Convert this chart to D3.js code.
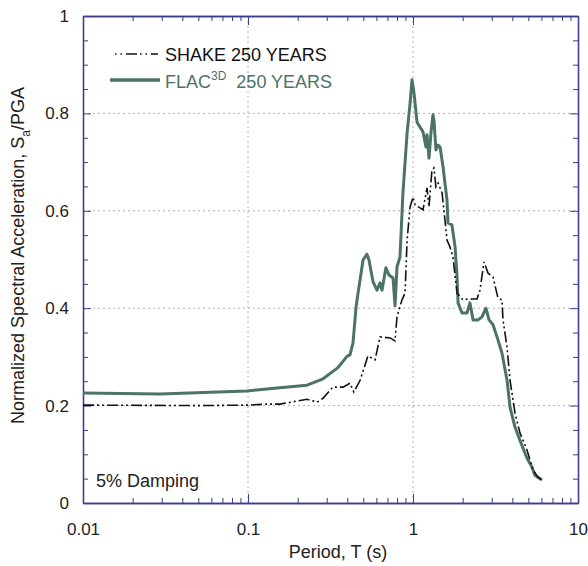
<!DOCTYPE html>
<html>
<head>
<meta charset="utf-8">
<script src="https://cdn.jsdelivr.net/npm/d3@7/dist/d3.min.js"></script>
<style>
body { margin: 0; background: #fff; }
svg text { font-family: Arial, "Liberation Sans", sans-serif; }
</style>
</head>
<body>
<svg id="chart" width="588" height="566"></svg>
<script>
// ---- data ----
const shakePeriod = [0.01, 0.05, 0.1, 0.13, 0.156, 0.228, 0.262, 0.285, 0.327, 0.377, 0.415, 0.438, 0.478, 0.533, 0.589, 0.631, 0.726, 0.778, 0.80, 0.857, 0.895, 0.921, 0.96, 1.0, 1.03, 1.102, 1.15, 1.216, 1.25, 1.303, 1.34, 1.377, 1.419, 1.5, 1.563, 1.607, 1.675, 1.747, 1.849, 2.01, 2.154, 2.443, 2.546, 2.692, 2.85, 3.055, 3.273, 3.459, 3.511, 3.715, 3.873, 4.15, 4.446, 4.909, 5.33, 5.72, 6.05];
const shakeSa = [0.201, 0.200, 0.201, 0.203, 0.203, 0.213, 0.207, 0.215, 0.238, 0.238, 0.246, 0.228, 0.252, 0.302, 0.294, 0.341, 0.339, 0.333, 0.382, 0.417, 0.431, 0.54, 0.608, 0.628, 0.612, 0.606, 0.602, 0.647, 0.608, 0.684, 0.688, 0.649, 0.657, 0.637, 0.58, 0.54, 0.526, 0.505, 0.431, 0.417, 0.419, 0.419, 0.437, 0.495, 0.472, 0.464, 0.421, 0.417, 0.376, 0.32, 0.252, 0.185, 0.144, 0.109, 0.068, 0.053, 0.047];

const flacPeriod = [0.01, 0.0293, 0.0986, 0.15, 0.228, 0.285, 0.351, 0.398, 0.415, 0.433, 0.452, 0.464, 0.498, 0.526, 0.541, 0.573, 0.605, 0.631, 0.649, 0.685, 0.716, 0.757, 0.778, 0.80, 0.834, 0.869, 0.921, 0.96, 0.986, 1.014, 1.058, 1.102, 1.15, 1.199, 1.216, 1.25, 1.285, 1.321, 1.34, 1.377, 1.419, 1.459, 1.521, 1.607, 1.629, 1.722, 1.799, 1.849, 1.875, 1.982, 2.123, 2.213, 2.312, 2.477, 2.618, 2.767, 2.89, 3.055, 3.273, 3.459, 3.715, 3.873, 4.15, 4.446, 4.909, 5.26, 5.48, 6.05];
const flacSa = [0.226, 0.224, 0.230, 0.236, 0.242, 0.255, 0.278, 0.301, 0.304, 0.329, 0.403, 0.43, 0.499, 0.511, 0.499, 0.454, 0.437, 0.452, 0.437, 0.483, 0.468, 0.462, 0.405, 0.485, 0.505, 0.637, 0.76, 0.821, 0.869, 0.842, 0.782, 0.772, 0.762, 0.731, 0.756, 0.708, 0.76, 0.797, 0.786, 0.725, 0.735, 0.731, 0.69, 0.622, 0.575, 0.571, 0.526, 0.464, 0.411, 0.39, 0.39, 0.411, 0.376, 0.376, 0.382, 0.40, 0.376, 0.366, 0.335, 0.308, 0.252, 0.197, 0.156, 0.129, 0.092, 0.074, 0.057, 0.047];

const xMajorTicks = [0.01, 0.1, 1, 10];
const xTickLabels = ["0.01", "0.1", "1", "10"];
const yMajorTicks = [0, 0.2, 0.4, 0.6, 0.8, 1];
const yTickLabels = ["0", "0.2", "0.4", "0.6", "0.8", "1"];
const seriesNames = ["SHAKE 250 YEARS", "FLAC", "3D", "  250 YEARS"];

// ---- layout ----
const svg = d3.select("#chart");
const L = 83, R = 578, T = 16, B = 503;
const axisColor = "#3b3b8f";
const green = "#4d7266";

const x = d3.scaleLog().domain([0.01, 10]).range([L, R]);
const y = d3.scaleLinear().domain([0, 1]).range([B, T]);

// gridlines
const g = svg.append("g");
g.selectAll("line.gx").data(xMajorTicks.slice(1, -1)).join("line")
  .attr("x1", d => x(d)).attr("x2", d => x(d)).attr("y1", T).attr("y2", B)
  .attr("stroke", "#b0b0b0").attr("stroke-width", 1).attr("stroke-dasharray", "2,3");
g.selectAll("line.gy").data(yMajorTicks.slice(1, -1)).join("line")
  .attr("y1", d => y(d)).attr("y2", d => y(d)).attr("x1", L).attr("x2", R)
  .attr("stroke", "#b0b0b0").attr("stroke-width", 1).attr("stroke-dasharray", "2,3");

// minor ticks
const xMinor = [];
[0.01, 0.1, 1].forEach(dec => { for (let k = 2; k <= 9; k++) xMinor.push(dec * k); });
const yMinor = d3.range(0.05, 1, 0.05).filter(v => Math.abs(v * 5 - Math.round(v * 5)) > 1e-6);

// axes with inward ticks
function styleAxis(sel) {
  sel.select(".domain").attr("stroke", axisColor).attr("stroke-width", 1.3);
  sel.selectAll(".tick line").attr("stroke", axisColor).attr("stroke-width", 1);
  sel.selectAll(".tick text").attr("fill", "#222").style("font-size", "17px");
}
const xAxisB = d3.axisBottom(x).tickValues(xMajorTicks).tickFormat((d, i) => xTickLabels[i]).tickSizeInner(-9).tickSizeOuter(0).tickPadding(20);
svg.append("g").attr("transform", `translate(0,${B})`).call(xAxisB).call(styleAxis);
const xAxisBm = d3.axisBottom(x).tickValues(xMinor).tickFormat("").tickSizeInner(-5).tickSizeOuter(0);
svg.append("g").attr("transform", `translate(0,${B})`).call(xAxisBm).call(styleAxis);
const xAxisT = d3.axisTop(x).tickValues(xMajorTicks).tickFormat("").tickSizeInner(-9).tickSizeOuter(0);
svg.append("g").attr("transform", `translate(0,${T})`).call(xAxisT).call(styleAxis);
const xAxisTm = d3.axisTop(x).tickValues(xMinor).tickFormat("").tickSizeInner(-5).tickSizeOuter(0);
svg.append("g").attr("transform", `translate(0,${T})`).call(xAxisTm).call(styleAxis);

const yAxisL = d3.axisLeft(y).tickValues(yMajorTicks).tickFormat((d, i) => yTickLabels[i]).tickSizeInner(-8).tickSizeOuter(0).tickPadding(14);
svg.append("g").attr("transform", `translate(${L},0)`).call(yAxisL).call(styleAxis);
const yAxisLm = d3.axisLeft(y).tickValues(yMinor).tickFormat("").tickSizeInner(-5).tickSizeOuter(0);
svg.append("g").attr("transform", `translate(${L},0)`).call(yAxisLm).call(styleAxis);
const yAxisR = d3.axisRight(y).tickValues(yMajorTicks).tickFormat("").tickSizeInner(-8).tickSizeOuter(0);
svg.append("g").attr("transform", `translate(${R},0)`).call(yAxisR).call(styleAxis);
const yAxisRm = d3.axisRight(y).tickValues(yMinor).tickFormat("").tickSizeInner(-5).tickSizeOuter(0);
svg.append("g").attr("transform", `translate(${R},0)`).call(yAxisRm).call(styleAxis);

// lines
const line = d3.line().x(d => x(d[0])).y(d => y(d[1]));
const flacData = flacPeriod.map((p, i) => [p, flacSa[i]]);
const shakeData = shakePeriod.map((p, i) => [p, shakeSa[i]]);
svg.append("path").datum(flacData).attr("d", line)
  .attr("fill", "none").attr("stroke", green).attr("stroke-width", 3).attr("stroke-linejoin", "round");
svg.append("path").datum(shakeData).attr("d", line)
  .attr("fill", "none").attr("stroke", "#111").attr("stroke-width", 1.6)
  .attr("stroke-dasharray", "11,3,2,3,2,3");

// legend
svg.append("line").attr("x1", 115).attr("x2", 158).attr("y1", 54).attr("y2", 54)
  .attr("stroke", "#111").attr("stroke-width", 1.6).attr("stroke-dasharray", "1.5,4,1.5,4,11,3");
svg.append("text").attr("x", 165).attr("y", 61).attr("fill", "#111").style("font-size", "18px").text(seriesNames[0]);
svg.append("line").attr("x1", 110).attr("x2", 160).attr("y1", 80).attr("y2", 80)
  .attr("stroke", green).attr("stroke-width", 3.5);
const ft = svg.append("text").attr("x", 165).attr("y", 88).attr("fill", green).style("font-size", "18px");
ft.append("tspan").text(seriesNames[1]);
ft.append("tspan").attr("dy", -8).style("font-size", "12px").text(seriesNames[2]);
ft.append("tspan").attr("dy", 8).style("white-space", "pre").text(seriesNames[3]);

// annotation
svg.append("text").attr("x", 96).attr("y", 487).attr("fill", "#222").style("font-size", "18px").text("5% Damping");

// axis titles
svg.append("text").attr("x", 338).attr("y", 558).attr("text-anchor", "middle").attr("fill", "#222")
  .style("font-size", "18px").text("Period, T (s)");
const yt = svg.append("text").attr("transform", `translate(24,${(T + B) / 2 - 4}) rotate(-90)`)
  .attr("text-anchor", "middle").attr("fill", "#222").style("font-size", "18px");
yt.append("tspan").text("Normalized Spectral Acceleration, S");
yt.append("tspan").attr("dy", 6).style("font-size", "12px").text("a");
yt.append("tspan").attr("dy", -6).text("/PGA");
</script>
</body>
</html>
